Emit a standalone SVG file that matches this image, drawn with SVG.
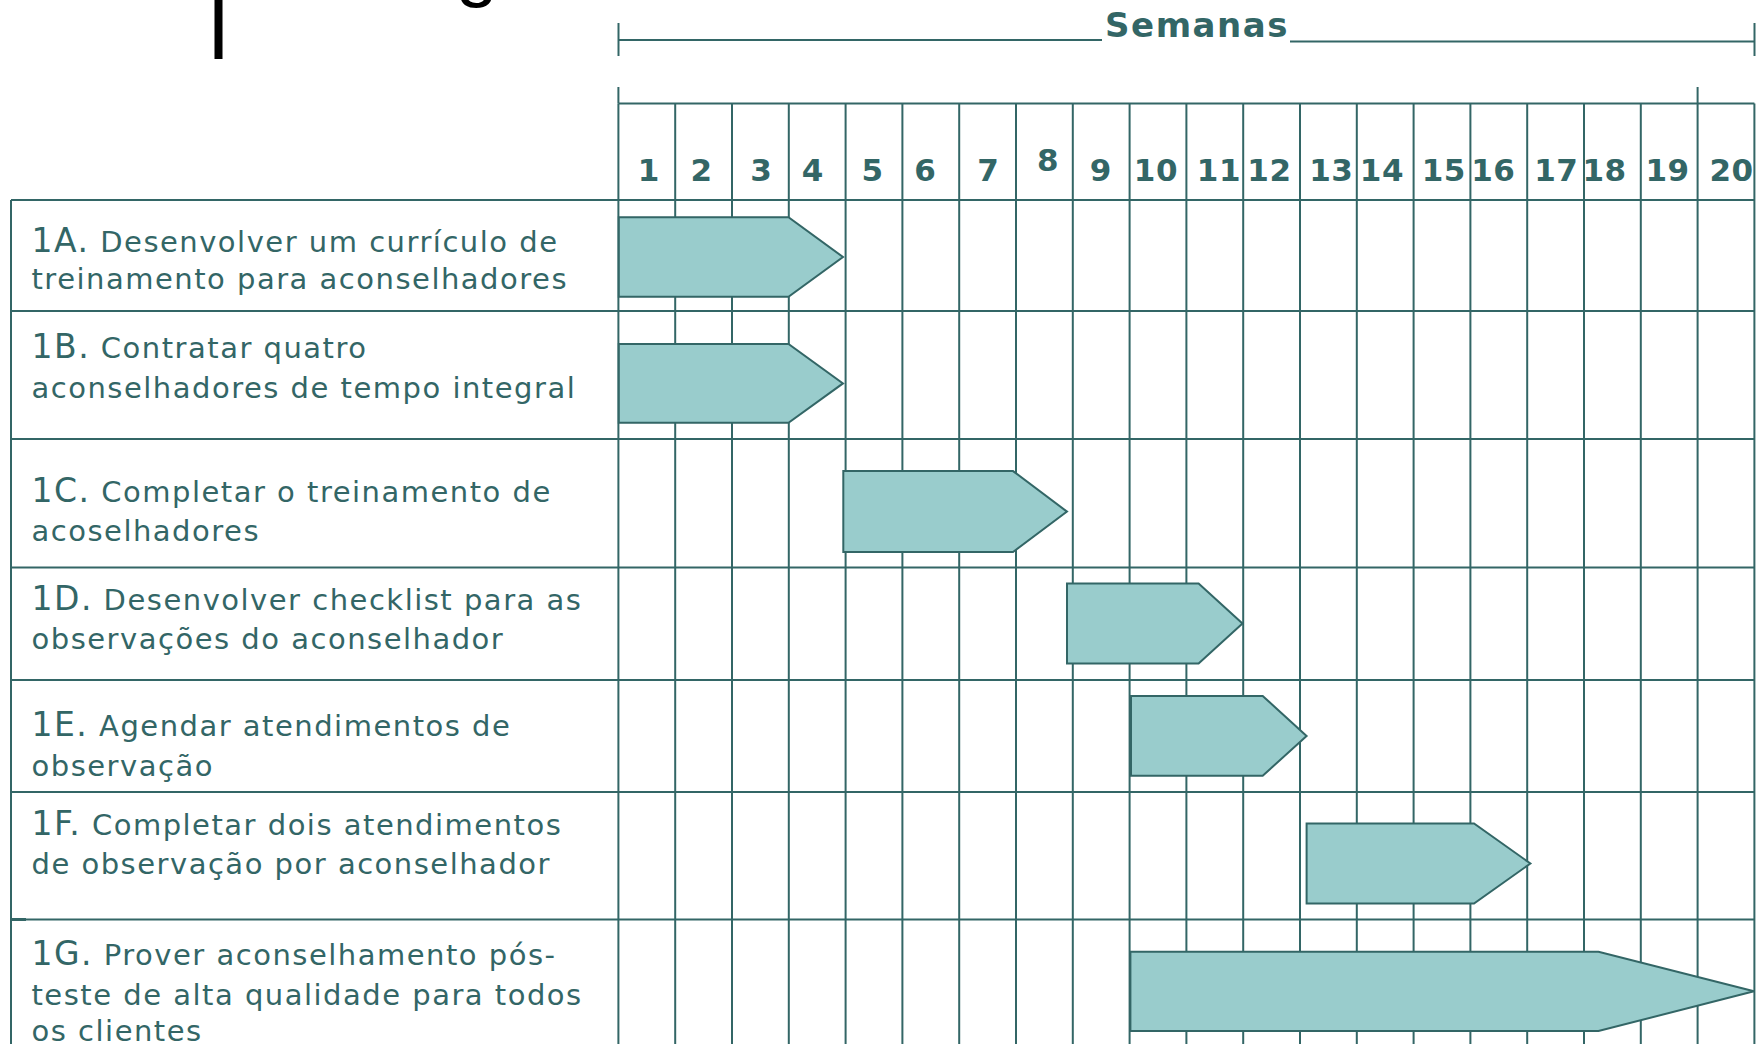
<svg xmlns="http://www.w3.org/2000/svg" width="1763" height="1044" viewBox="0 0 1763 1044">
<defs>
<style>
.g{stroke:#336666;stroke-width:2;fill:none}
.bar{fill:#99CCCC;stroke:#336666;stroke-width:2;stroke-linejoin:miter}
.lbl{font-family:"DejaVu Sans",Verdana,sans-serif;font-size:29px;letter-spacing:1.5px;fill:#336666}
.pre{font-size:33px}
.num{font-family:"DejaVu Sans",Verdana,sans-serif;font-size:31px;font-weight:bold;fill:#336666;text-anchor:middle;letter-spacing:0.5px}
.hdr{font-family:"DejaVu Sans",Verdana,sans-serif;font-size:34px;font-weight:bold;fill:#336666;text-anchor:middle;letter-spacing:1.5px}
</style>
</defs>
<rect width="1763" height="1044" fill="#ffffff"/>
<g id="title-fragment">
<rect x="214.5" y="0" width="8" height="59" fill="#000"/>
<text x="456" y="-7" font-family="Liberation Sans, Arial, sans-serif" font-size="75" fill="#000">g</text>
</g>
<g id="weeks-header">
<line class="g" x1="618.5" y1="40" x2="1102" y2="40"/>
<line class="g" x1="1290" y1="41.5" x2="1754.5" y2="41.5"/>
<line class="g" x1="618.5" y1="23" x2="618.5" y2="56"/>
<line class="g" x1="1754.5" y1="23" x2="1754.5" y2="56"/>
<text class="hdr" x="1197" y="37">Semanas</text>
</g>
<g id="grid">
<line class="g" x1="618.4" y1="103.4" x2="1754.4" y2="103.4"/>
<line class="g" x1="618.4" y1="87" x2="618.4" y2="103.4"/>
<line class="g" x1="1697.6" y1="87" x2="1697.6" y2="103.4"/>
<path class="g" d="M618.4 103.4V1044 M675.2 103.4V1044 M732 103.4V1044 M788.8 103.4V1044 M845.6 103.4V1044 M902.4 103.4V1044 M959.2 103.4V1044 M1016 103.4V1044 M1072.8 103.4V1044 M1129.6 103.4V1044 M1186.4 103.4V1044 M1243.2 103.4V1044 M1300 103.4V1044 M1356.8 103.4V1044 M1413.6 103.4V1044 M1470.4 103.4V1044 M1527.2 103.4V1044 M1584 103.4V1044 M1640.8 103.4V1044 M1697.6 103.4V1044 M1754.4 103.4V1044"/>
<path class="g" d="M11 200H1754.4 M11 311H1754.4 M11 439H1754.4 M11 567.5H1754.4 M11 680H1754.4 M11 792H1754.4 M11 919.5H1754.4 M11 200V1044"/>
<line x1="10" y1="919.5" x2="26" y2="919.5" stroke="#336666" stroke-width="3"/>
</g>
<g id="week-numbers">
<text class="num" x="648.8" y="181">1</text>
<text class="num" x="701.6" y="181">2</text>
<text class="num" x="761.2" y="181">3</text>
<text class="num" x="812.9" y="181">4</text>
<text class="num" x="872.5" y="181">5</text>
<text class="num" x="925.4" y="181">6</text>
<text class="num" x="988.4" y="181">7</text>
<text class="num" x="1048" y="171">8</text>
<text class="num" x="1100.8" y="181">9</text>
<text class="num" x="1155.9" y="181">10</text>
<text class="num" x="1218.9" y="181">11</text>
<text class="num" x="1269.4" y="181">12</text>
<text class="num" x="1331.3" y="181">13</text>
<text class="num" x="1381.9" y="181">14</text>
<text class="num" x="1443.7" y="181">15</text>
<text class="num" x="1493.3" y="181">16</text>
<text class="num" x="1556.2" y="181">17</text>
<text class="num" x="1604.5" y="181">18</text>
<text class="num" x="1667.5" y="181">19</text>
<text class="num" x="1731.6" y="181">20</text>
</g>
<g id="task-1A">
<text class="lbl" x="31.5" y="252"><tspan class="pre">1A.</tspan> Desenvolver um currículo de</text>
<text class="lbl" x="31.5" y="289">treinamento para aconselhadores</text>
<polygon class="bar" points="618.8,217.3 788.5,217.3 843,257 788.5,296.7 618.8,296.7"/>
</g>
<g id="task-1B">
<text class="lbl" x="31.5" y="358"><tspan class="pre">1B.</tspan> Contratar quatro</text>
<text class="lbl" x="31.5" y="398">aconselhadores de tempo integral</text>
<polygon class="bar" points="618.8,344 788.5,344 843,383.4 788.5,422.7 618.8,422.7"/>
</g>
<g id="task-1C">
<text class="lbl" x="31.5" y="502"><tspan class="pre">1C.</tspan> Completar o treinamento de</text>
<text class="lbl" x="31.5" y="541">acoselhadores</text>
<polygon class="bar" points="843.3,471.1 1013,471.1 1067,511.6 1013,552.1 843.3,552.1"/>
</g>
<g id="task-1D">
<text class="lbl" x="31.5" y="610"><tspan class="pre">1D.</tspan> Desenvolver checklist para as</text>
<text class="lbl" x="31.5" y="649">observações do aconselhador</text>
<polygon class="bar" points="1067,583.6 1198.6,583.6 1242.5,623.5 1198.6,663.4 1067,663.4"/>
</g>
<g id="task-1E">
<text class="lbl" x="31.5" y="736"><tspan class="pre">1E.</tspan> Agendar atendimentos de</text>
<text class="lbl" x="31.5" y="776">observação</text>
<polygon class="bar" points="1131,696 1262.7,696 1306.6,735.9 1262.7,775.8 1131,775.8"/>
</g>
<g id="task-1F">
<text class="lbl" x="31.5" y="835"><tspan class="pre">1F.</tspan> Completar dois atendimentos</text>
<text class="lbl" x="31.5" y="874">de observação por aconselhador</text>
<polygon class="bar" points="1306.6,823.5 1474,823.5 1530.4,863.5 1474,903.5 1306.6,903.5"/>
</g>
<g id="task-1G">
<text class="lbl" x="31.5" y="965"><tspan class="pre">1G.</tspan> Prover aconselhamento pós-</text>
<text class="lbl" x="31.5" y="1005">teste de alta qualidade para todos</text>
<text class="lbl" x="31.5" y="1041">os clientes</text>
<polygon class="bar" points="1130.4,951.7 1598.5,951.7 1754,991.3 1598.5,1031 1130.4,1031"/>
</g>
</svg>
